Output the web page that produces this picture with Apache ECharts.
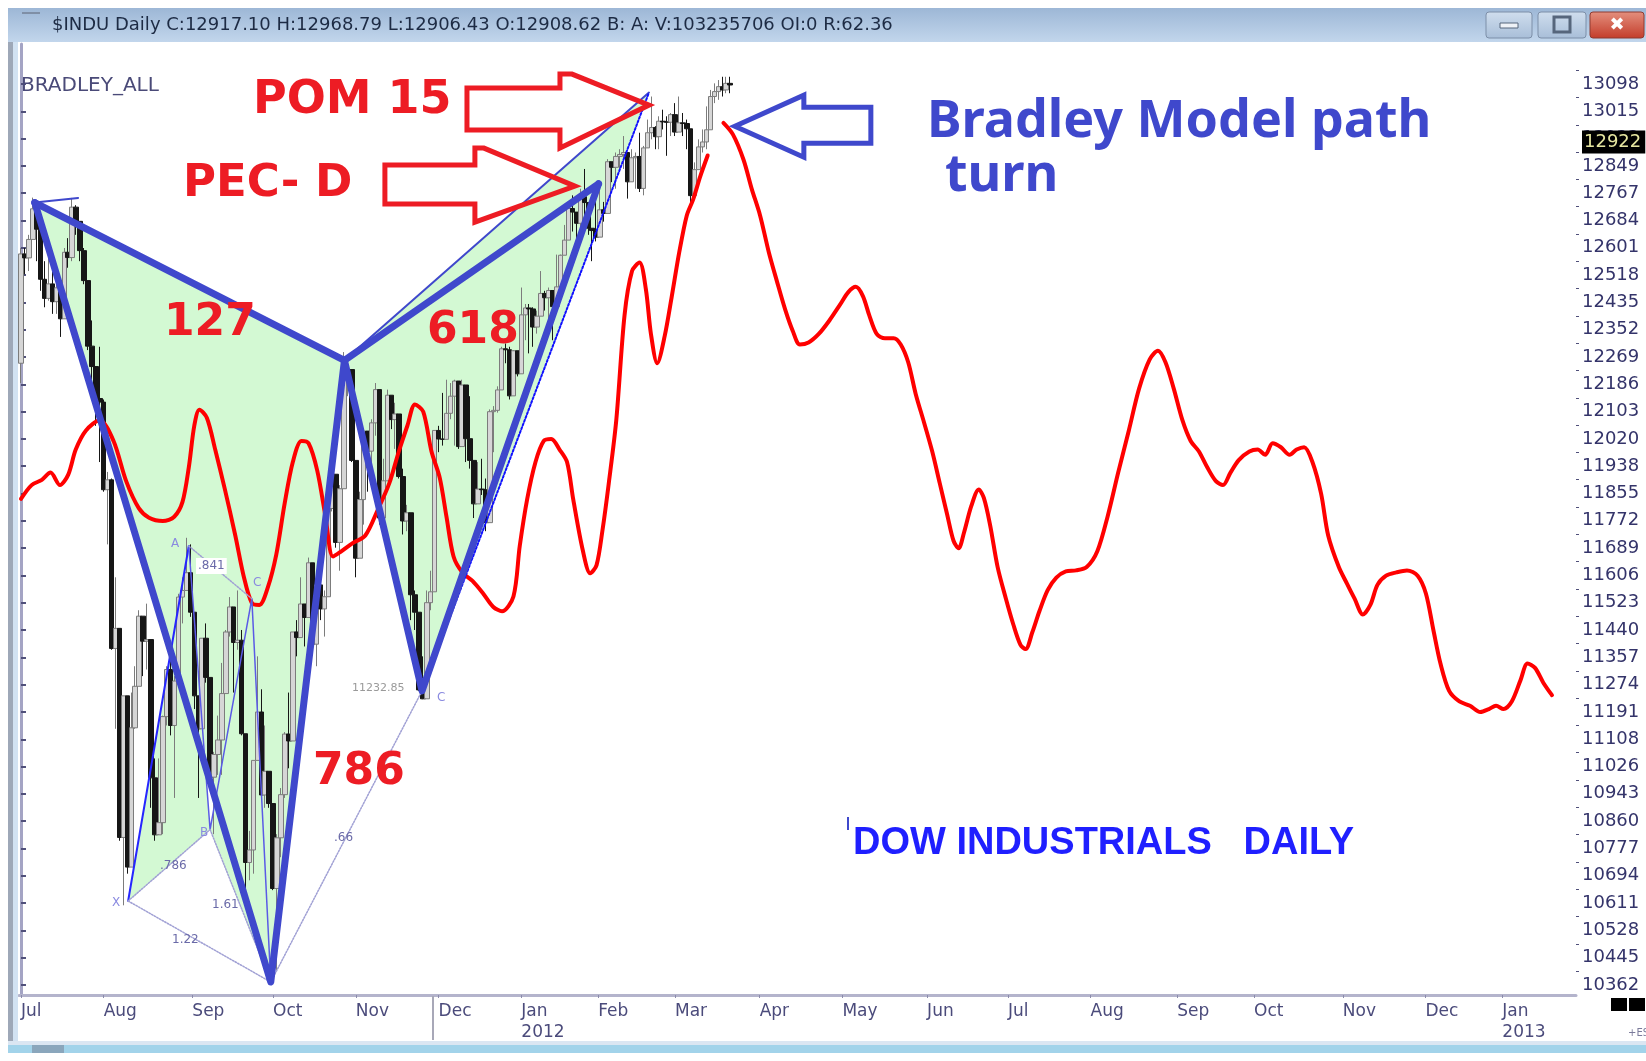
<!DOCTYPE html>
<html>
<head>
<meta charset="utf-8">
<title>$INDU Daily - Bradley model</title>
<script src="https://cdn.jsdelivr.net/npm/echarts@6.0.0/dist/echarts.min.js"></script>
<style>
html, body { margin: 0; padding: 0; background: #fff; }
#chart { width: 1646px; height: 1061px; }
</style>
</head>
<body>
<div id="chart"></div>
<script>
// x axis = trading-day index, 0 = first trading day of Jul 2011
const monthTicks = [0, 21, 43.5, 64, 85, 106, 127, 146.5, 166, 187.5, 208.5, 230, 250.5, 271.5, 293.5, 313, 335.5, 356.5, 376];
const monthLabels = ['Jul', 'Aug', 'Sep', 'Oct', 'Nov', 'Dec', 'Jan\n2012', 'Feb', 'Mar', 'Apr', 'May', 'Jun', 'Jul', 'Aug', 'Sep', 'Oct', 'Nov', 'Dec', 'Jan\n2013'];

// price scale labels on the right
const priceTicks = [10362, 10445, 10528, 10611, 10694, 10777, 10860, 10943, 11026, 11108, 11191, 11274, 11357, 11440, 11523, 11606, 11689, 11772, 11855, 11938, 12020, 12103, 12186, 12269, 12352, 12435, 12518, 12601, 12684, 12767, 12849, 12932, 13015, 13098];
const lastPrice = 12922;

// daily bars: [day, open, close, low, high]
const candles = [
  [0, 12250, 12582, 12190, 12600], [1, 12582, 12570, 12520, 12600], [2, 12570, 12626, 12530, 12640], [3, 12626, 12719, 12626, 12753],
  [4, 12719, 12657, 12560, 12719], [5, 12657, 12505, 12470, 12657], [6, 12505, 12447, 12420, 12560], [7, 12447, 12491, 12440, 12590],
  [8, 12491, 12437, 12400, 12560], [9, 12437, 12479, 12400, 12500], [10, 12479, 12385, 12330, 12479], [11, 12385, 12587, 12385, 12600],
  [12, 12587, 12571, 12540, 12630], [13, 12571, 12724, 12560, 12752], [14, 12724, 12681, 12640, 12730], [15, 12681, 12592, 12560, 12681],
  [16, 12592, 12501, 12490, 12600], [17, 12501, 12302, 12290, 12501], [18, 12302, 12240, 12200, 12380], [19, 12240, 12143, 12060, 12240],
  [20, 12143, 12132, 11950, 12300], [21, 12132, 11866, 11860, 12140], [22, 11866, 11896, 11700, 11920], [23, 11896, 11384, 11380, 11900],
  [24, 11384, 11445, 11140, 11600], [25, 11445, 10810, 10800, 11445], [26, 10810, 11240, 10604, 11240], [27, 11240, 10720, 10700, 11240],
  [28, 10720, 11143, 10720, 11250], [29, 11143, 11269, 11140, 11330], [30, 11269, 11482, 11269, 11500], [31, 11482, 11406, 11300, 11482],
  [32, 11406, 11411, 11320, 11520], [33, 11411, 10991, 10900, 11411], [34, 10991, 10818, 10800, 11050], [35, 10818, 10855, 10820, 11050],
  [36, 10855, 11177, 10820, 11180], [37, 11177, 11320, 11150, 11330], [38, 11320, 11150, 11120, 11400], [39, 11150, 11285, 10930, 11300],
  [40, 11285, 11540, 11285, 11550], [41, 11540, 11560, 11460, 11600], [42, 11560, 11614, 11560, 11720], [43, 11614, 11494, 11480, 11700],
  [44, 11494, 11240, 11200, 11494], [45, 11240, 11140, 10930, 11240], [46, 11140, 11415, 11140, 11415], [47, 11415, 11296, 11280, 11460],
  [48, 11296, 10993, 10960, 11296], [49, 10993, 11062, 10820, 11070], [50, 11062, 11106, 11000, 11180], [51, 11106, 11247, 11000, 11340],
  [52, 11247, 11434, 11247, 11440], [53, 11434, 11510, 11420, 11540], [54, 11510, 11402, 11250, 11510], [55, 11402, 11409, 11380, 11560],
  [56, 11409, 11125, 11120, 11440], [57, 11125, 10734, 10600, 11125], [58, 10734, 10772, 10680, 10830], [59, 10772, 11044, 10700, 11044],
  [60, 11044, 11191, 11044, 11360], [61, 11191, 10939, 10930, 11260], [62, 10939, 11011, 10900, 11150], [63, 11011, 10913, 10900, 11011],
  [64, 10913, 10655, 10650, 10913], [65, 10655, 10809, 10404, 10820], [66, 10809, 10940, 10750, 10960], [67, 10940, 11124, 10930, 11130],
  [68, 11124, 11103, 11020, 11250], [69, 11103, 11434, 11103, 11434], [70, 11434, 11417, 11360, 11470], [71, 11417, 11519, 11417, 11600],
  [72, 11519, 11478, 11390, 11519], [73, 11478, 11644, 11478, 11660], [74, 11644, 11397, 11380, 11644], [75, 11397, 11577, 11330, 11600],
  [76, 11577, 11504, 11470, 11620], [77, 11504, 11541, 11420, 11560], [78, 11541, 11809, 11541, 11820], [79, 11809, 11913, 11800, 11940],
  [80, 11913, 11706, 11690, 11913], [81, 11706, 11869, 11620, 11880], [82, 11869, 12209, 11869, 12284], [83, 12209, 12231, 12150, 12250],
  [84, 12231, 11955, 11950, 12231], [85, 11955, 11658, 11600, 11955], [86, 11658, 11836, 11658, 11860], [87, 11836, 12044, 11760, 12050],
  [88, 12044, 11983, 11860, 12044], [89, 11983, 12069, 11900, 12080], [90, 12069, 12170, 12030, 12190], [91, 12170, 11780, 11760, 12170],
  [92, 11780, 11893, 11780, 11960], [93, 11893, 12153, 11893, 12170], [94, 12153, 12079, 12050, 12153], [95, 12079, 12096, 11990, 12130],
  [96, 12096, 11906, 11900, 12096], [97, 11906, 11771, 11730, 11930], [98, 11771, 11796, 11740, 11820], [99, 11796, 11547, 11470, 11796],
  [100, 11547, 11494, 11440, 11560], [101, 11494, 11258, 11255, 11494], [102, 11258, 11231, 11230, 11360], [103, 11231, 11523, 11231, 11560],
  [104, 11523, 11556, 11500, 11620], [105, 11556, 12046, 11556, 12046], [106, 12046, 12020, 11980, 12060], [107, 12020, 12019, 12000, 12160],
  [108, 12019, 12098, 12019, 12200], [109, 12098, 12150, 12080, 12190], [110, 12150, 12196, 12000, 12200], [111, 12196, 11997, 11990, 12196],
  [112, 11997, 12184, 11997, 12200], [113, 12184, 12021, 11950, 12184], [114, 12021, 11955, 11930, 12150], [115, 11955, 11823, 11780, 11955],
  [116, 11823, 11868, 11823, 11950], [117, 11868, 11866, 11850, 11960], [118, 11866, 11766, 11740, 11900], [119, 11766, 12103, 11766, 12110],
  [120, 12103, 12107, 11980, 12120], [121, 12107, 12169, 12100, 12180], [122, 12169, 12294, 12169, 12300], [123, 12294, 12291, 12250, 12310],
  [124, 12291, 12151, 12140, 12300], [125, 12151, 12288, 12151, 12290], [126, 12288, 12218, 12210, 12288], [127, 12218, 12397, 12218, 12480],
  [128, 12397, 12418, 12320, 12430], [129, 12418, 12415, 12280, 12430], [130, 12415, 12360, 12300, 12420], [131, 12360, 12393, 12340, 12410],
  [132, 12393, 12462, 12393, 12530], [133, 12462, 12449, 12410, 12470], [134, 12449, 12471, 12360, 12480], [135, 12471, 12422, 12320, 12471],
  [136, 12422, 12482, 12422, 12580], [137, 12482, 12578, 12460, 12580], [138, 12578, 12624, 12578, 12670], [139, 12624, 12720, 12624, 12720],
  [140, 12720, 12709, 12650, 12760], [141, 12709, 12675, 12630, 12709], [142, 12675, 12756, 12620, 12780], [143, 12756, 12738, 12700, 12840],
  [144, 12738, 12660, 12640, 12738], [145, 12660, 12653, 12560, 12660], [146, 12653, 12633, 12620, 12760], [147, 12633, 12716, 12633, 12800],
  [148, 12716, 12705, 12680, 12740], [149, 12705, 12862, 12705, 12870], [150, 12862, 12845, 12800, 12862], [151, 12845, 12878, 12780, 12890],
  [152, 12878, 12884, 12830, 12900], [153, 12884, 12890, 12840, 12940], [154, 12890, 12801, 12750, 12890], [155, 12801, 12874, 12801, 12900],
  [156, 12874, 12878, 12780, 12890], [157, 12878, 12781, 12770, 12950], [158, 12781, 12904, 12760, 12910], [159, 12904, 12950, 12904, 12990],
  [160, 12950, 12966, 12930, 13060], [161, 12966, 12938, 12900, 12970], [162, 12938, 12985, 12900, 13000], [163, 12985, 12983, 12960, 13020],
  [164, 12983, 12982, 12880, 13000], [165, 12982, 13005, 12940, 13010], [166, 13005, 12952, 12940, 13040], [167, 12952, 12980, 12952, 13060],
  [168, 12980, 12978, 12940, 13010], [169, 12978, 12962, 12900, 12990], [170, 12962, 12759, 12730, 12962], [171, 12759, 12838, 12759, 12860],
  [172, 12838, 12907, 12838, 12930], [173, 12907, 12922, 12890, 12960], [174, 12922, 12959, 12900, 13030], [175, 12959, 13060, 12959, 13080],
  [176, 13060, 13075, 13040, 13100], [177, 13075, 13090, 13050, 13110], [178, 13090, 13080, 13060, 13120], [179, 13080, 13100, 13070, 13120],
  [180, 13100, 13095, 13070, 13120]
];

// Bradley model path (red), null = break in the drawn path
const bradleyDay = [0, 2.7, 5.3, 7.5, 9.9, 12, 13.9, 16.5, 20, 23.5, 26.7, 29.9, 32.5, 36, 38.9, 41, 42.6, 44, 45.3, 47.2, 49.3, 51.7, 54.4, 56.5, 58.6, 60.5, 62.6, 64.8, 66.9, 69, 71.2, 73, 75.2, 77.3, 79.2, 81.3, 84.2, 87.4, 90.6, 93.5, 95.9, 98.1, 100, 102.1, 104.2, 106.3, 108, 109.8, 112, 114.6, 117.3, 119.9, 122.1, 125, 126.6, 128.5, 130.6, 132.7, 134.6, 136.7, 138.6, 140.2, 142.6, 144.5, 146.1, 147.6, 149.2, 151.1, 153.2, 155.1, 157, 158.6, 159.9, 161.5, 163.4, 165.2, 167.1, 169, 170.6, 172.4, 174.3, 176.3, 178.3, 180.7, 183.4, 185.5, 187.6, 189.8, 191.9, 194, 195.9, 197.7, 199.9, 202.5, 205.2, 207.9, 210, 211.9, 213.7, 215.3, 217.2, 219.3, 221.5, 223.3, 225.2, 227.1, 229.2, 231.3, 233.2, 235.1, 236.7, 238, 239.3, 241.2, 243.1, 244.4, 246, 247.9, 250, 251.9, 253.7, 255, 256.7, 258.5, 260.6, 262.8, 265.2, 267.8, 270.5, 273.2, 275.8, 278.5, 281.2, 283.8, 286.5, 288.6, 290.5, 292.6, 294.8, 296.9, 299, 301.1, 303.3, 305.1, 307, 309.1, 311.8, 313.9, 315.8, 317.7, 319.8, 322, 323.8, 325.7, 327.8, 330, 331.8, 334.5, 336.6, 338.5, 340.6, 342.5, 344.3, 346.5, 349.1, 351.8, 354.5, 356.6, 358.5, 360.3, 362.5, 365.1, 367.8, 370.4, 372.6, 374.4, 376.3, 378.4, 380.6, 382.4, 384.3, 386.4, 388.6];
const bradleyVal = [11838, 11880, 11896, 11918, 11880, 11912, 11988, 12046, 12077, 12014, 11892, 11810, 11781, 11771, 11784, 11829, 11934, 12061, 12109, 12084, 11988, 11870, 11727, 11605, 11522, 11516, 11567, 11669, 11822, 11950, 12014, 12007, 11924, 11784, 11663, 11679, 11704, 11727, 11806, 11886, 11982, 12061, 12125, 12103, 11982, 11902, 11784, 11663, 11615, 11589, 11551, 11510, 11497, 11542, 11695, 11838, 11950, 12014, 12020, 11988, 11950, 11835, 11682, 11612, 11637, 11743, 11886, 12077, 12396, 12530, 12556, 12476, 12339, 12250, 12333, 12454, 12588, 12699, 12747, 12817, 12881, null, 12980, 12945, 12868, 12779, 12699, 12588, 12498, 12412, 12348, 12307, 12313, 12339, 12380, 12428, 12466, 12482, 12454, 12396, 12339, 12326, 12326, 12307, 12253, 12157, 12071, 11982, 11886, 11790, 11711, 11688, 11733, 11816, 11867, 11841, 11758, 11631, 11535, 11456, 11395, 11382, 11433, 11497, 11561, 11599, 11618, 11621, 11631, 11679, 11784, 11918, 12046, 12173, 12262, 12288, 12253, 12173, 12077, 12014, 11982, 11934, 11892, 11880, 11918, 11956, 11982, 11988, 11972, 12007, 11995, 11972, 11988, 11995, 11950, 11854, 11727, 11631, 11580, 11535, 11487, 11516, 11577, 11605, 11615, 11621, 11605, 11551, 11440, 11338, 11255, 11223, 11210, 11191, 11200, 11210, 11200, 11223, 11287, 11338, 11325, 11280, 11242];

// harmonic pattern pivots [day, price]
const ptX = [3.5, 12738];
const ptA = [63.4, 10371];
const ptB = [82.1, 12259];
const ptC = [101.8, 11255];
const ptD = [146.6, 12795];
const ptPOM = [159.4, 13072];
// smaller pattern inside the X-A leg
const smX = [27.2, 10617];
const smA = [42.6, 11695];
const smB = [48.0, 10834];
const smC = [58.6, 11535];
const smD = ptA;

// where the annotation arrows point
const tipPOM = [159.4, 13034];
const tipPECD = [140.6, 12788];
const tipBradley = [181.2, 12970];

const greenPolys = [
  [ptX, ptA, ptB],
  [ptB, ptC, ptPOM],
  [smX, smA, smB],
  [smB, smC, smD]
];

function lineSeries(pts, color, width, dash, z) {
  return {
    type: 'line',
    data: pts,
    symbol: 'none',
    silent: true,
    z: z,
    lineStyle: { color: color, width: width, type: dash || 'solid', join: 'round', cap: 'round' }
  };
}

const bradleyData = bradleyDay.map(function (d, i) {
  return [d, bradleyVal[i] === null ? '-' : bradleyVal[i]];
});

const chart = echarts.init(document.getElementById('chart'));

const option = {
  animation: false,
  backgroundColor: '#ffffff',
  grid: { left: 19, right: 70, top: 44, bottom: 66, outerBoundsMode: 'none' },
  xAxis: {
    type: 'value',
    min: -0.5,
    max: 394.7,
    splitLine: { show: false },
    axisLine: { lineStyle: { color: '#b4b4cc', width: 3 } },
    axisTick: { customValues: monthTicks, length: 3, lineStyle: { color: '#8c8cac' } },
    axisLabel: {
      customValues: monthTicks,
      align: 'left',
      margin: 6,
      color: '#4b4b7b',
      fontFamily: 'DejaVu Sans',
      fontSize: 17,
      lineHeight: 21,
      formatter: function (v) {
        let best = 0;
        monthTicks.forEach(function (t, i) { if (Math.abs(t - v) < Math.abs(monthTicks[best] - v)) best = i; });
        return monthLabels[best];
      }
    }
  },
  yAxis: [{
    type: 'value',
    position: 'right',
    min: 10331.6,
    max: 13219.5,
    splitLine: { show: false },
    axisLine: { show: true, lineStyle: { color: '#a4a4c4', width: 3 } },
    axisTick: { customValues: priceTicks, length: 5, lineStyle: { color: '#50507a', width: 2 } },
    axisLabel: {
      customValues: priceTicks,
      margin: 6,
      color: '#34346a',
      fontFamily: 'DejaVu Sans',
      fontSize: 18,
      formatter: function (v) { return String(Math.round(v)); }
    }
  }, {
    // minor ticks between the price labels
    type: 'value',
    position: 'right',
    min: 10331.6,
    max: 13219.5,
    splitLine: { show: false },
    axisLine: { show: false },
    axisLabel: { show: false },
    axisTick: { customValues: priceTicks.map(function (v) { return v + 41.5; }), length: 3, lineStyle: { color: '#50507a' } }
  }],
  series: [
    {
      type: 'custom',
      name: 'pattern fill',
      silent: true,
      z: 1,
      data: greenPolys.map(function (p, i) { return [p[0][0], p[0][1], i]; }),
      renderItem: function (params, api) {
        const poly = greenPolys[api.value(2)];
        return {
          type: 'polygon',
          shape: { points: poly.map(function (p) { return api.coord(p); }) },
          style: { fill: '#d3f9d3' }
        };
      }
    },
    {
      type: 'candlestick',
      name: '$INDU',
      z: 2,
      barWidth: 5,
      data: candles,
      itemStyle: { color: '#d6d6d6', color0: '#161616', borderColor: '#7c7c7c', borderColor0: '#161616', borderWidth: 1 }
    },
    {
      // last price box on the price scale
      type: 'line',
      name: 'last',
      data: [[0, lastPrice]],
      symbol: 'none',
      silent: true,
      clip: false,
      z: 6,
      lineStyle: { opacity: 0 },
      markLine: {
        silent: true,
        symbol: ['none', 'none'],
        data: [{ yAxis: lastPrice }],
        lineStyle: { color: 'transparent', width: 1 },
        label: {
          position: 'end',
          distance: 6,
          formatter: String(lastPrice),
          color: '#e6e6a0',
          backgroundColor: '#000000',
          padding: [3, 4, 2, 2],
          fontFamily: 'DejaVu Sans',
          fontSize: 18
        }
      }
    },
    Object.assign(lineSeries(bradleyData, '#ff0000', 4, null, 3), { smooth: 0.3, connectNulls: false }),
    // thin tool lines of the small pattern
    lineSeries([smX, smA], '#2626ff', 2, null, 4),
    lineSeries([smA, smB, smC, smD], '#5a5ae6', 1.5, null, 4),
    lineSeries([smX, smB], '#a0a0d4', 1.5, 'dotted', 4),
    lineSeries([smA, smC], '#a0a0d4', 1.5, 'dotted', 4),
    lineSeries([smB, smD], '#a0a0d4', 1.5, 'dotted', 4),
    lineSeries([smX, smD], '#a0a0d4', 1.5, 'dotted', 4),
    lineSeries([ptA, ptC], '#a0a0d4', 1.5, 'dotted', 4),
    // thin lines to the POM point
    lineSeries([ptB, ptPOM], '#3f48cc', 2, null, 4),
    lineSeries([ptC, ptPOM], '#1010ff', 2, 'dotted', 4),
    lineSeries([ptX, [14.5, 12752]], '#3f48cc', 2, null, 4),
    // hand drawn thick legs
    lineSeries([ptX, ptA, ptB, ptC, ptD], '#3f48cc', 7, null, 5),
    lineSeries([ptX, ptB], '#3f48cc', 7, null, 5),
    lineSeries([ptB, ptD], '#3f48cc', 7, null, 5)
  ]
};

chart.setOption(option);

// annotations: arrows anchored to data points, plus free text
function arrow(tip, shape, color) {
  const p = chart.convertToPixel({ xAxisIndex: 0, yAxisIndex: 0 }, tip);
  return {
    type: 'polygon',
    z: 100,
    shape: { points: shape.map(function (s) { return [p[0] + s[0], p[1] + s[1]]; }) },
    style: { fill: null, stroke: color, lineWidth: 5, lineJoin: 'miter' }
  };
}

function txt(x, y, text, font, fill, extra) {
  return {
    type: 'text', z: 100, x: x, y: y,
    style: Object.assign({ text: text, font: font, fill: fill, textAlign: 'left', textVerticalAlign: 'middle' }, extra || {})
  };
}

const smallFont = '12px "DejaVu Sans"';

chart.setOption({
  graphic: [
    // window chrome
    { type: 'rect', z: 100, shape: { x: 8, y: 8, width: 1638, height: 34 },
      style: { fill: new echarts.graphic.LinearGradient(0, 0, 0, 1, [{ offset: 0, color: '#9db7d6' }, { offset: 1, color: '#c2d6ec' }]) } },
    { type: 'rect', z: 100, shape: { x: 22, y: 12, width: 18, height: 2 }, style: { fill: '#7f8fa6' } },
    { type: 'rect', z: 100, shape: { x: 1486, y: 12, width: 46, height: 26, r: 3 },
      style: { fill: new echarts.graphic.LinearGradient(0, 0, 0, 1, [{ offset: 0, color: '#d0deee' }, { offset: 1, color: '#a8bed8' }]), stroke: '#7d8fa8' } },
    { type: 'rect', z: 101, shape: { x: 1500, y: 23, width: 18, height: 5 }, style: { fill: '#eef2f7', stroke: '#56667c' } },
    { type: 'rect', z: 100, shape: { x: 1538, y: 12, width: 48, height: 26, r: 3 },
      style: { fill: new echarts.graphic.LinearGradient(0, 0, 0, 1, [{ offset: 0, color: '#d0deee' }, { offset: 1, color: '#a8bed8' }]), stroke: '#7d8fa8' } },
    { type: 'rect', z: 101, shape: { x: 1554, y: 17, width: 16, height: 15 }, style: { fill: null, stroke: '#56667c', lineWidth: 3 } },
    { type: 'rect', z: 100, shape: { x: 1590, y: 12, width: 54, height: 26, r: 3 },
      style: { fill: new echarts.graphic.LinearGradient(0, 0, 0, 1, [{ offset: 0, color: '#e4907e' }, { offset: 1, color: '#c33c2a' }]), stroke: '#8e3a30' } },
    txt(1617, 25, '\u2716', 'bold 18px "DejaVu Sans"', '#ffffff', { textAlign: 'center' }),
    txt(52, 25, '$INDU Daily C:12917.10 H:12968.79 L:12906.43 O:12908.62 B: A: V:103235706 OI:0 R:62.36', '18px "DejaVu Sans"', '#1d2b44'),
    // frame
    { type: 'rect', z: 100, shape: { x: 8, y: 42, width: 5, height: 1003 }, style: { fill: '#9ea8b8' } },
    { type: 'rect', z: 100, shape: { x: 13, y: 42, width: 5, height: 1003 }, style: { fill: '#d2e2f2' } },
    { type: 'rect', z: 100, shape: { x: 8, y: 1041, width: 1638, height: 4 }, style: { fill: '#dbe6f2' } },
    { type: 'rect', z: 100, shape: { x: 8, y: 1045, width: 1638, height: 8 }, style: { fill: '#a2d3ea' } },
    { type: 'rect', z: 101, shape: { x: 32, y: 1045, width: 32, height: 8 }, style: { fill: '#8aa6bc' } },
    { type: 'line', z: 100, shape: { x1: 433, y1: 996, x2: 433, y2: 1040 }, style: { stroke: '#a8a8b8', lineWidth: 2 } },
    { type: 'rect', z: 100, shape: { x: 1611, y: 998, width: 16, height: 13 }, style: { fill: '#000' } },
    { type: 'rect', z: 100, shape: { x: 1629, y: 998, width: 16, height: 13 }, style: { fill: '#000' } },
    txt(1628, 1033, '+ES', '10px "DejaVu Sans"', '#7a7a9a'),
    txt(21, 86, 'BRADLEY_ALL', '20px "DejaVu Sans"', '#4a4a78'),

    // annotation arrows
    arrow(tipPOM, [[0, 0], [-77, -31], [-89, -31], [-89, -17], [-182, -17], [-182, 25], [-89, 25], [-89, 43]], '#ed1c24'),
    arrow(tipPECD, [[0, 0], [-91, -38], [-100, -38], [-100, -21], [-190, -21], [-190, 18], [-100, 18], [-100, 36]], '#ed1c24'),
    arrow(tipBradley, [[0, 0], [69, -31], [69, -19], [136, -19], [136, 17], [69, 17], [69, 31]], '#3f48cc'),

    // red ratio / label text
    txt(253, 101, 'POM 15', 'bold 46px "DejaVu Sans"', '#ed1c24'),
    txt(183, 184, 'PEC- D', 'bold 45px "DejaVu Sans"', '#ed1c24'),
    txt(164, 324, '127', 'bold 44px "DejaVu Sans"', '#ed1c24'),
    txt(427, 332, '618', 'bold 44px "DejaVu Sans"', '#ed1c24'),
    txt(313, 773, '786', 'bold 44px "DejaVu Sans"', '#ed1c24'),

    txt(927, 122, 'Bradley Model path', 'bold 52px "Noto Sans"', '#3f48cc'),
    txt(945, 176, 'turn', 'bold 52px "Noto Sans"', '#3f48cc'),

    { type: 'line', z: 100, shape: { x1: 848, y1: 817, x2: 848, y2: 830 }, style: { stroke: '#3f48cc', lineWidth: 2 } },
    txt(853, 844, 'DOW INDUSTRIALS   DAILY', 'bold 38px "Liberation Sans"', '#1f1fff'),

    // tool labels on the pattern
    txt(112, 903, 'X', smallFont, '#8a8ae0'),
    txt(171, 544, 'A', smallFont, '#8a8ae0'),
    txt(200, 833, 'B', smallFont, '#8a8ae0'),
    txt(253, 583, 'C', smallFont, '#8a8ae0'),
    txt(437, 698, 'C', smallFont, '#8a8ae0'),
    txt(196, 566, '.841', smallFont, '#6a6aa8', { backgroundColor: '#ffffff', padding: [2, 2] }),
    txt(160, 866, '.786', smallFont, '#6a6aa8'),
    txt(212, 905, '1.61', smallFont, '#6a6aa8'),
    txt(172, 940, '1.22', smallFont, '#6a6aa8'),
    txt(334, 838, '.66', smallFont, '#6a6aa8'),
    txt(352, 688, '11232.85', '11px "DejaVu Sans"', '#9a9a9a')
  ]
});
</script>
</body>
</html>
